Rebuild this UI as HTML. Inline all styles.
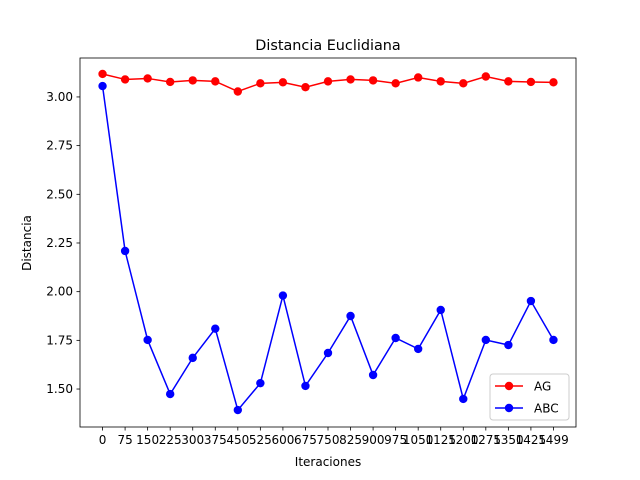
<!DOCTYPE html>
<html><head><meta charset="utf-8"><style>body{margin:0;background:#fff}svg{display:block;font-family:"DejaVu Sans","Liberation Sans",sans-serif}</style></head>
<body>
<svg id="c" width="640" height="480"></svg>
<script>
const categories=["0","75","150","225","300","375","450","525","600","675","750","825","900","975","1050","1125","1200","1275","1350","1425","1499"];
const agValues=[3.118,3.09,3.095,3.077,3.085,3.08,3.028,3.07,3.075,3.05,3.08,3.09,3.085,3.07,3.10,3.08,3.07,3.105,3.08,3.077,3.075];
const abcValues=[3.056,2.209,1.752,1.474,1.66,1.81,1.392,1.53,1.98,1.516,1.685,1.875,1.572,1.762,1.706,1.906,1.449,1.752,1.726,1.952,1.752];
const yTicks=[1.5,1.75,2.0,2.25,2.5,2.75,3.0];
const L=80,R=576,T=58,B=427,ymin=1.305,ymax=3.2;
const NS="http://www.w3.org/2000/svg",svg=document.getElementById('c');
function X(i){return L+(i+1)*(R-L)/(categories.length+1);}
function Y(v){return B-(v-ymin)/(ymax-ymin)*(B-T);}
function mk(t,a,p){const e=document.createElementNS(NS,t);for(const k in a)e.setAttribute(k,a[k]);(p||svg).appendChild(e);return e;}
const frame=mk('rect',{x:L,y:T,width:R-L,height:B-T,fill:'none',stroke:'#000','stroke-width':0.8});


categories.forEach((c,i)=>{const x=X(i);
 const tk=mk('line',{x1:x,x2:x,y1:B,y2:B+3.5,stroke:'#000','stroke-width':0.8});
 
 
 const t=mk('text',{x:x,y:B+17,'font-size':12,'text-anchor':'middle'});t.textContent=c;
 
 });
yTicks.forEach(v=>{const y=Y(v);
 const tk=mk('line',{x1:L-3.5,x2:L,y1:y,y2:y,stroke:'#000','stroke-width':0.8});
 
 
 const t=mk('text',{x:L-7,y:y+4,'font-size':12,'text-anchor':'end'});t.textContent=v.toFixed(2);
 
 });
function series(vals,color,name){const g=mk('g',{});
 
 
 mk('polyline',{points:vals.map((v,i)=>X(i)+','+Y(v)).join(' '),fill:'none',stroke:color,'stroke-width':1.5},g);
 vals.forEach((v,i)=>{const p=mk('circle',{cx:X(i),cy:Y(v),r:4.2,fill:color},g);
 
 });}
series(agValues,'#ff0000','series-ag');
series(abcValues,'#0000ff','series-abc');
const ti=mk('text',{x:328,y:50,'font-size':14.4,'text-anchor':'middle'});ti.textContent='Distancia Euclidiana';


const xt=mk('text',{x:328,y:466,'font-size':12,'text-anchor':'middle'});xt.textContent='Iteraciones';


const yt=mk('text',{x:31,y:243,'font-size':12,'text-anchor':'middle',transform:'rotate(-90 31 243)'});yt.textContent='Distancia';


const lg=mk('g',{});


mk('rect',{x:490,y:374,width:79,height:46,rx:3,fill:'#fff',stroke:'#ccc','stroke-width':1},lg);
[['AG','#ff0000',386],['ABC','#0000ff',408]].forEach(([n,c,y])=>{
 const e=mk('g',{},lg);
 
 
 mk('line',{x1:495,x2:523,y1:y,y2:y,stroke:c,'stroke-width':1.5},e);
 mk('circle',{cx:509,cy:y,r:4.2,fill:c},e);
 const t=mk('text',{x:534,y:y+4.5,'font-size':12},e);t.textContent=n;});
</script>
</body></html>
